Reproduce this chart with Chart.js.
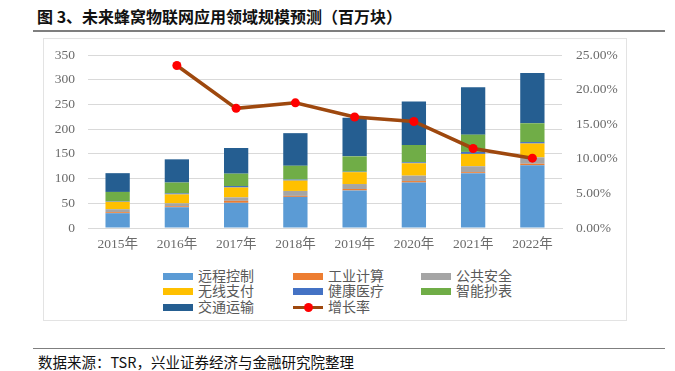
<!DOCTYPE html>
<html>
<head>
<meta charset="utf-8">
<script src="https://cdn.jsdelivr.net/npm/chart.js@4.4.0/dist/chart.umd.min.js"></script>
<style>
  body { margin: 0; width: 675px; height: 371px; background: #fff; position: relative; overflow: hidden;
         font-family: "Liberation Serif", "Noto Sans CJK SC", serif; }
  #title { position: absolute; left: 37px; top: 4px; font: bold 16px "Noto Sans CJK SC", sans-serif; color: #111; }
  #titleRule { position: absolute; left: 33px; top: 30px; width: 632px; height: 2px; background: #7f7f7f; }
  #box { position: absolute; left: 43px; top: 38px; width: 584px; height: 283px; border: 1px solid #e3e3e3; box-sizing: border-box; }
  #chartWrap { position: absolute; left: 43px; top: 33px; width: 584px; height: 230px; }
  #legend { position: absolute; left: 163px; top: 268px; width: 400px; }
  .item { position: absolute; height: 16px; font: 14px "Noto Sans CJK SC", sans-serif; color: #595959; line-height: 16px; white-space: nowrap; }
  .sw { position: absolute; left: 0; top: 5px; width: 30px; height: 7px; }
  .item span { position: absolute; left: 35px; top: -1px; }
  .ln { position: absolute; left: 0; top: 7px; width: 30px; height: 3px; }
  .dot { position: absolute; left: 11px; top: 4px; width: 9px; height: 9px; border-radius: 50%; background: #ff0000; }
  #footRule { position: absolute; left: 33px; top: 348px; width: 632px; height: 1px; background: #7f7f7f; }
  #foot { position: absolute; left: 38px; top: 351px; font: 14.5px "Noto Sans CJK SC", sans-serif; color: #111; }
</style>
</head>
<body>
<div id="title">图 3、未来蜂窝物联网应用领域规模预测（百万块）</div>
<div id="titleRule"></div>
<div id="box"></div>
<div id="chartWrap"><canvas id="chart"></canvas></div>
<div id="legend"></div>
<div id="footRule"></div>
<div id="foot">数据来源：TSR，兴业证券经济与金融研究院整理</div>
<script>
const years = ["2015年", "2016年", "2017年", "2018年", "2019年", "2020年", "2021年", "2022年"];

// stacked values, bottom to top (百万块)
const remoteControl = [30, 42, 51, 63, 76, 92, 111, 127];
const industrial    = [2, 2, 4, 2, 3, 3, 2, 3];
const publicSafety  = [6, 6, 7, 10, 10, 11, 12, 13];
const wirelessPay   = [15, 18, 20, 21, 24, 25, 25, 28];
const healthcare    = [1, 2, 3, 2, 1, 2, 4, 3];
const smartMeter    = [19, 22, 25, 28, 31, 35, 35, 38];
const transport     = [38, 47, 52, 66, 78, 88, 96, 102];

// growth rate
const growth = [null, 0.235, 0.173, 0.181, 0.1605, 0.154, 0.115, 0.101];

const leftTicks = [0, 50, 100, 150, 200, 250, 300, 350];
const rightTicks = [0, 0.05, 0.10, 0.15, 0.20, 0.25];

const barSeries = [
  { label: "远程控制", data: remoteControl, color: "#5b9bd5" },
  { label: "工业计算", data: industrial,    color: "#ed7d31" },
  { label: "公共安全", data: publicSafety,  color: "#a5a5a5" },
  { label: "无线支付", data: wirelessPay,   color: "#ffc000" },
  { label: "健康医疗", data: healthcare,    color: "#4472c4" },
  { label: "智能抄表", data: smartMeter,    color: "#70ad47" },
  { label: "交通运输", data: transport,     color: "#255e91" }
];

const tickFont = { family: "'Liberation Serif', 'Noto Sans CJK SC', serif", size: 13.5 };
const tickColor = "#6b6b6b";

const datasets = [{
  type: "line",
  label: "增长率",
  data: growth,
  yAxisID: "y1",
  borderColor: "#9e480e",
  borderWidth: 3.5,
  pointRadius: 4.5,
  pointBackgroundColor: "#ff0000",
  pointBorderColor: "#ff0000",
  pointBorderWidth: 0,
  tension: 0,
  order: 0
}];
barSeries.forEach(s => {
  datasets.push({
    type: "bar",
    label: s.label,
    data: s.data,
    backgroundColor: s.color,
    borderWidth: 0,
    yAxisID: "y",
    stack: "s",
    barPercentage: 0.41,
    categoryPercentage: 1,
    order: 1
  });
});

const chart = new Chart(document.getElementById("chart"), {
  data: { labels: years, datasets },
  options: {
    responsive: true,
    maintainAspectRatio: false,
    animation: false,
    layout: { padding: { top: 5 } },
    plugins: { legend: { display: false }, tooltip: { enabled: false } },
    scales: {
      x: {
        stacked: true,
        grid: { display: false, drawTicks: false },
        border: { display: true, color: "#d9d9d9", width: 1 },
        ticks: { font: tickFont, color: tickColor, padding: 8 },
        afterFit: a => { a.height = 35; }
      },
      y: {
        stacked: true,
        position: "left",
        min: 0, max: 350,
        afterBuildTicks: a => { a.ticks = leftTicks.map(v => ({ value: v })); },
        grid: { color: "#d9d9d9", lineWidth: 1, drawTicks: false },
        border: { display: false },
        ticks: { font: tickFont, color: tickColor, padding: 13 },
        afterFit: a => { a.width = 45; }
      },
      y1: {
        position: "right",
        min: 0, max: 0.25,
        afterBuildTicks: a => { a.ticks = rightTicks.map(v => ({ value: v })); },
        grid: { display: false, drawTicks: false },
        border: { display: false },
        ticks: { font: tickFont, color: tickColor, padding: 14, callback: v => (v * 100).toFixed(2) + "%" },
        afterFit: a => { a.width = 65; }
      }
    }
  }
});

// legend in three columns, built from the chart datasets
const legend = document.getElementById("legend");
const legendOrder = ["远程控制", "工业计算", "公共安全", "无线支付", "健康医疗", "智能抄表", "交通运输", "增长率"];
const colX = [0, 130, 258];
const rowY = [0, 15, 31];
legendOrder.forEach((name, i) => {
  const ds = chart.data.datasets.find(d => d.label === name);
  const item = document.createElement("div");
  item.className = "item";
  item.style.left = colX[i % 3] + "px";
  item.style.top = rowY[Math.floor(i / 3)] + "px";
  if (ds.type === "line") {
    item.innerHTML = '<div class="ln" style="background:' + ds.borderColor + '"></div><div class="dot"></div>';
  } else {
    item.innerHTML = '<div class="sw" style="background:' + ds.backgroundColor + '"></div>';
  }
  const sp = document.createElement("span");
  sp.textContent = name;
  item.appendChild(sp);
  legend.appendChild(item);
});
</script>
</body>
</html>
